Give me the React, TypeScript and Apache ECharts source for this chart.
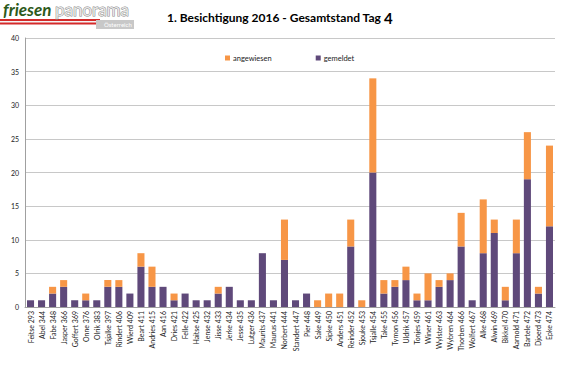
import React, { useEffect, useRef } from "react";
import * as echarts from "echarts";

const categories = [
  "Feitse 293", "Abel 344", "Fabe 348", "Jasper 366", "Goffert 369", "Onne 376", "Olrik 383",
  "Tsjalke 397", "Rindert 406", "Wierd 409", "Beart 411", "Andries 415", "Aan 416", "Dries 421",
  "Felle 422", "Haitse 425", "Jense 432", "Jisse 433", "Jerke 434", "Jesse 435", "Lutger 436",
  "Maurits 437", "Maurus 441", "Norbert 444", "Standert 447", "Pier 448", "Sake 449", "Sipke 450",
  "Anders 451", "Reinder 452", "Sjouke 453", "Tsjalle 454", "Take 455", "Tymon 456", "Uldrik 457",
  "Tonjes 459", "Winer 461", "Wylster 463", "Wybren 464", "Thorben 466", "Wolfert 467", "Alke 468",
  "Alwin 469", "Bikkel 470", "Aarnold 471", "Bartele 472", "Djoerd 473", "Epke 474",
];

const gemeldet = [
  1, 1, 2, 3, 1, 1, 1,
  3, 3, 2, 6, 3, 3, 1,
  2, 1, 1, 2, 3, 1, 1,
  8, 1, 7, 1, 2, 0, 0,
  0, 9, 0, 20, 2, 3, 4,
  1, 1, 3, 4, 9, 1, 8,
  11, 1, 8, 19, 2, 12,
];

const angewiesen = [
  0, 0, 1, 1, 0, 1, 0,
  1, 1, 0, 2, 3, 0, 1,
  0, 0, 0, 1, 0, 0, 0,
  0, 0, 6, 0, 0, 1, 2,
  2, 4, 1, 14, 2, 1, 2,
  1, 4, 1, 1, 5, 0, 8,
  2, 2, 5, 7, 1, 12,
];

const FONT = "Lato, 'Liberation Sans', sans-serif";

export default function App() {
  const ref = useRef<HTMLDivElement>(null);
  useEffect(() => {
    if (!ref.current) return;
    document.body.style.margin = "0";
    const chart = echarts.init(ref.current, undefined, { renderer: "svg" });
    chart.setOption({
      animation: false,
      backgroundColor: "#ffffff",
      textStyle: { fontFamily: FONT },
      graphic: [
        { type: "rect", shape: { x: 0, y: 19, width: 100, height: 2 }, style: { fill: "#d42a2a" } },
        { type: "rect", shape: { x: 0, y: 21, width: 100, height: 1.5 }, style: { fill: "#f4f4f4" } },
        { type: "rect", shape: { x: 0, y: 22.5, width: 100, height: 2 }, style: { fill: "#d42a2a" } },
        { type: "rect", shape: { x: 96, y: 20, width: 38, height: 9 }, style: { fill: "#c8c8c8" } },
        {
          type: "text", x: 3, y: 1,
          style: { text: "friesen", fontFamily: FONT, fontWeight: "bold", fontStyle: "italic", fontSize: 17, fill: "#2d5a1b", stroke: "#ffffff", lineWidth: 1 },
        },
        {
          type: "text", x: 55, y: 1,
          style: { text: "panorama", fontFamily: FONT, fontSize: 17, fill: "#e6e6e6", stroke: "#8a8a8a", lineWidth: 1 },
        },
        {
          type: "text", x: 104, y: 21,
          style: { text: "Österreich", fontFamily: FONT, fontSize: 6, fill: "#ffffff" },
        },
        {
          type: "text", x: 167, y: 10,
          style: {
            text: "{a|1. Besichtigung 2016 - Gesamtstand Tag }{b|4}",
            rich: {
              a: { fontFamily: FONT, fontWeight: "bold", fontSize: 12, fill: "#000000" },
              b: { fontFamily: FONT, fontWeight: "bold", fontSize: 15, fill: "#000000" },
            },
          },
        },
      ],
      legend: {
        data: ["angewiesen", "gemeldet"],
        left: 220,
        top: 49,
        itemWidth: 5,
        itemHeight: 5,
        itemGap: 44,
        icon: "rect",
        textStyle: { fontSize: 7.5, color: "#222", fontFamily: FONT, padding: [0, 0, 0, -2] },
      },
      grid: { left: 25, right: 29, top: 38, bottom: 58 },
      xAxis: {
        type: "category",
        data: categories,
        axisTick: { show: false },
        axisLine: { lineStyle: { color: "#a0a0a0" } },
        axisLabel: { rotate: 90, interval: 0, fontSize: 7, color: "#222", fontFamily: FONT, margin: 4 },
      },
      yAxis: {
        type: "value",
        min: 0,
        max: 40,
        interval: 5,
        axisLine: { show: true, lineStyle: { color: "#a0a0a0" } },
        axisTick: { show: false },
        splitLine: { lineStyle: { color: "#c8c8c8" } },
        axisLabel: { fontSize: 7, color: "#222", fontFamily: FONT, margin: 6 },
      },
      series: [
        {
          name: "gemeldet",
          type: "bar",
          stack: "total",
          data: gemeldet,
          barCategoryGap: "36%",
          itemStyle: { color: "#5f497a" },
        },
        {
          name: "angewiesen",
          type: "bar",
          stack: "total",
          data: angewiesen,
          barCategoryGap: "36%",
          itemStyle: { color: "#f79646" },
        },
      ],
    });
    return () => chart.dispose();
  }, []);
  return <div ref={ref} style={{ width: 584, height: 365 }} />;
}
